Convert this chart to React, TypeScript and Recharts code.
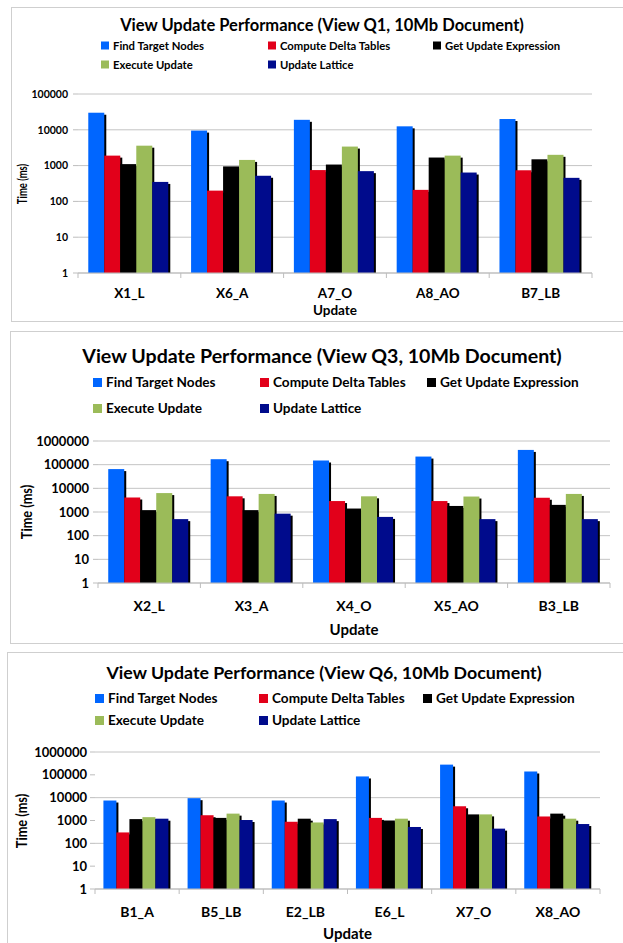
import React from 'react';
import { BarChart, Bar, XAxis, YAxis, CartesianGrid } from 'recharts';

// series shown in every chart
const seriesNames = ['Find Target Nodes', 'Compute Delta Tables', 'Get Update Expression', 'Execute Update', 'Update Lattice'];
const seriesKeys = ['find', 'delta', 'expr', 'exec', 'lattice'];
const seriesColors = ['#0066ff', '#e2001a', '#000000', '#9bbb59', '#000b8c'];

// View Q1
const q1Updates = ['X1_L', 'X6_A', 'A7_O', 'A8_AO', 'B7_LB'];
const q1Find = [30000, 9500, 19000, 12500, 20000];
const q1Delta = [1900, 200, 750, 210, 740];
const q1Expr = [1100, 950, 1070, 1680, 1500];
const q1Exec = [3600, 1440, 3400, 1900, 2000];
const q1Lattice = [350, 520, 700, 640, 455];

// View Q3
const q3Updates = ['X2_L', 'X3_A', 'X4_O', 'X5_AO', 'B3_LB'];
const q3Find = [65000, 170000, 150000, 220000, 420000];
const q3Delta = [4100, 4600, 2900, 2900, 4000];
const q3Expr = [1200, 1200, 1400, 1800, 2000];
const q3Exec = [6300, 5800, 4600, 4500, 5800];
const q3Lattice = [500, 850, 620, 500, 500];

// View Q6
const q6Updates = ['B1_A', 'B5_LB', 'E2_LB', 'E6_L', 'X7_O', 'X8_AO'];
const q6Find = [7500, 9500, 7500, 85000, 280000, 140000];
const q6Delta = [300, 1700, 880, 1300, 4200, 1500];
const q6Expr = [1150, 1300, 1200, 1000, 1850, 2000];
const q6Exec = [1400, 2000, 820, 1200, 1850, 1200];
const q6Lattice = [1200, 1050, 1150, 520, 440, 700];

const ticks5 = [1, 10, 100, 1000, 10000, 100000];
const ticks6 = [1, 10, 100, 1000, 10000, 100000, 1000000];

const makeRows = (updates: string[], cols: number[][]) =>
  updates.map((u, i) => {
    const row: any = { update: u };
    seriesKeys.forEach((k, j) => { row[k] = cols[j][i]; });
    return row;
  });

const FONT = 'Lato, sans-serif';

// bar with the black drop shadow on its right side
const ShadowBar = (props: any) => {
  const { x, y, width, height, fill } = props;
  if (!height || height <= 0) return null;
  return (
    <g>
      <rect x={x + 2} y={y + 2} width={width} height={Math.max(height - 2, 0)} fill="#000" />
      <rect x={x} y={y} width={width} height={height} fill={fill} />
    </g>
  );
};

// category label plus the small separator ticks between groups
const makeCatTick = (band: number, count: number, size: number, gap: number, axisY: number) => (props: any) => {
  const { x, y, payload, index } = props;
  return (
    <g>
      <line x1={x - band / 2} x2={x - band / 2} y1={axisY} y2={axisY + 5} stroke="#bdbdbd" />
      {index === count - 1 && <line x1={x + band / 2} x2={x + band / 2} y1={axisY} y2={axisY + 5} stroke="#bdbdbd" />}
      <text x={x} y={y + gap} dy="0.71em" textAnchor="middle" fill="#000" fontSize={size} fontWeight={700} fontFamily={FONT}>
        {payload.value}
      </text>
    </g>
  );
};

type PanelProps = {
  title: string;
  rows: any[];
  ticks: number[];
  top: number;
  height: number;
  borderLeft: number;
  plotTop: number;
  plotBottom: number;
  plotLeft: number;
  plotRight: number;
  tickGap: number;
  titleX: number;
  titleY: number;
  titleSize: number;
  legendRows: number[];
  legendCols: number[];
  legendSize: number;
  square: number;
  tickSize: number;
  catSize: number;
  catGap: number;
  updateY: number;
  timeX: number;
  timeScale: number;
  axisTitleSize: number;
};

const Panel: React.FC<PanelProps> = (p) => {
  const legendPos = [
    [p.legendCols[0], p.legendRows[0]],
    [p.legendCols[1], p.legendRows[0]],
    [p.legendCols[2], p.legendRows[0]],
    [p.legendCols[0], p.legendRows[1]],
    [p.legendCols[1], p.legendRows[1]],
  ];
  const plotMid = (p.plotLeft + p.plotRight) / 2;
  const band = (p.plotRight - p.plotLeft) / p.rows.length;
  const catTick = makeCatTick(band, p.rows.length, p.catSize, p.catGap, p.plotBottom - p.top);
  const text = { position: 'absolute' as const, whiteSpace: 'nowrap' as const, fontFamily: FONT, fontWeight: 700, color: '#000' };
  return (
    <>
      <div style={{ position: 'absolute', left: p.borderLeft, top: p.top, width: 640 - p.borderLeft, height: p.height - 1, border: '1px solid #cfcfcf', background: '#fff' }} />
      <div style={{ position: 'absolute', left: 0, top: p.top }}>
        <BarChart
          width={623}
          height={p.height}
          data={p.rows}
          margin={{ top: p.plotTop - p.top, right: 623 - p.plotRight, bottom: 0, left: 0 }}
          barCategoryGap="10%"
          barGap={0}
        >
          <CartesianGrid vertical={false} stroke="#c4c4c4" />
          <XAxis
            dataKey="update"
            height={p.top + p.height - p.plotBottom}
            tickLine={false}
            tickSize={0}
            tickMargin={0}
            interval={0}
            axisLine={{ stroke: '#bdbdbd' }}
            tick={catTick}
          />
          <YAxis
            width={p.plotLeft}
            scale="log"
            domain={[1, p.ticks[p.ticks.length - 1]]}
            ticks={p.ticks}
            allowDataOverflow
            axisLine={false}
            tickLine={{ stroke: '#bdbdbd' }}
            tickSize={5}
            tickMargin={p.tickGap - 5}
            tick={{ fill: '#000', fontSize: p.tickSize, fontWeight: 700, fontFamily: FONT }}
          />
          {seriesKeys.map((k, i) => (
            <Bar key={k} dataKey={k} name={seriesNames[i]} fill={seriesColors[i]} shape={ShadowBar} isAnimationActive={false} />
          ))}
        </BarChart>
      </div>
      <div style={{ ...text, left: p.titleX, top: p.titleY, transform: 'translate(-50%, -50%)', fontSize: p.titleSize }}>
        {p.title}
      </div>
      {seriesNames.map((n, i) => (
        <div key={n} style={{ ...text, left: legendPos[i][0], top: legendPos[i][1], transform: 'translateY(-50%)', display: 'flex', alignItems: 'center', fontSize: p.legendSize }}>
          <span style={{ display: 'inline-block', width: p.square, height: p.square, background: seriesColors[i], marginRight: 4 }} />
          {n}
        </div>
      ))}
      <div style={{ ...text, left: plotMid, top: p.updateY, transform: 'translate(-50%, -50%)', fontSize: p.axisTitleSize }}>
        Update
      </div>
      <div style={{ ...text, left: p.timeX, top: (p.plotTop + p.plotBottom) / 2, transform: `translate(-50%, -50%) rotate(-90deg) scaleX(${p.timeScale})`, fontSize: p.axisTitleSize }}>
        Time (ms)
      </div>
    </>
  );
};

export default function App() {
  const q1Rows = makeRows(q1Updates, [q1Find, q1Delta, q1Expr, q1Exec, q1Lattice]);
  const q3Rows = makeRows(q3Updates, [q3Find, q3Delta, q3Expr, q3Exec, q3Lattice]);
  const q6Rows = makeRows(q6Updates, [q6Find, q6Delta, q6Expr, q6Exec, q6Lattice]);

  return (
    <div style={{ position: 'absolute', left: 0, top: 0, width: 623, height: 943, overflow: 'hidden', background: '#fff' }}>
      <Panel
        title="View Update Performance (View Q1, 10Mb Document)"
        rows={q1Rows}
        ticks={ticks5}
        top={7}
        height={314}
        borderLeft={11}
        plotTop={94}
        plotBottom={273}
        plotLeft={78}
        plotRight={592}
        tickGap={10}
        titleX={322}
        titleY={25}
        titleSize={16.5}
        legendRows={[45, 64]}
        legendCols={[101, 268, 433]}
        legendSize={11.3}
        square={8}
        tickSize={10.5}
        catSize={13.5}
        catGap={15}
        updateY={310}
        timeX={22}
        timeScale={0.7}
        axisTitleSize={13.5}
      />
      <Panel
        title="View Update Performance (View Q3, 10Mb Document)"
        rows={q3Rows}
        ticks={ticks6}
        top={331}
        height={312}
        borderLeft={10}
        plotTop={441}
        plotBottom={583}
        plotLeft={98}
        plotRight={610}
        tickGap={9}
        titleX={322}
        titleY={355}
        titleSize={19.6}
        legendRows={[382, 408]}
        legendCols={[93, 260, 427]}
        legendSize={13.6}
        square={9}
        tickSize={13}
        catSize={14}
        catGap={18}
        updateY={629}
        timeX={26}
        timeScale={0.85}
        axisTitleSize={15}
      />
      <Panel
        title="View Update Performance (View Q6, 10Mb Document)"
        rows={q6Rows}
        ticks={ticks6}
        top={652}
        height={300}
        borderLeft={7}
        plotTop={752}
        plotBottom={889}
        plotLeft={95}
        plotRight={600}
        tickGap={8}
        titleX={324}
        titleY={672}
        titleSize={17.8}
        legendRows={[698, 720]}
        legendCols={[95, 259, 423]}
        legendSize={13.6}
        square={9}
        tickSize={13}
        catSize={14}
        catGap={18}
        updateY={933}
        timeX={21}
        timeScale={0.85}
        axisTitleSize={15}
      />
    </div>
  );
}
